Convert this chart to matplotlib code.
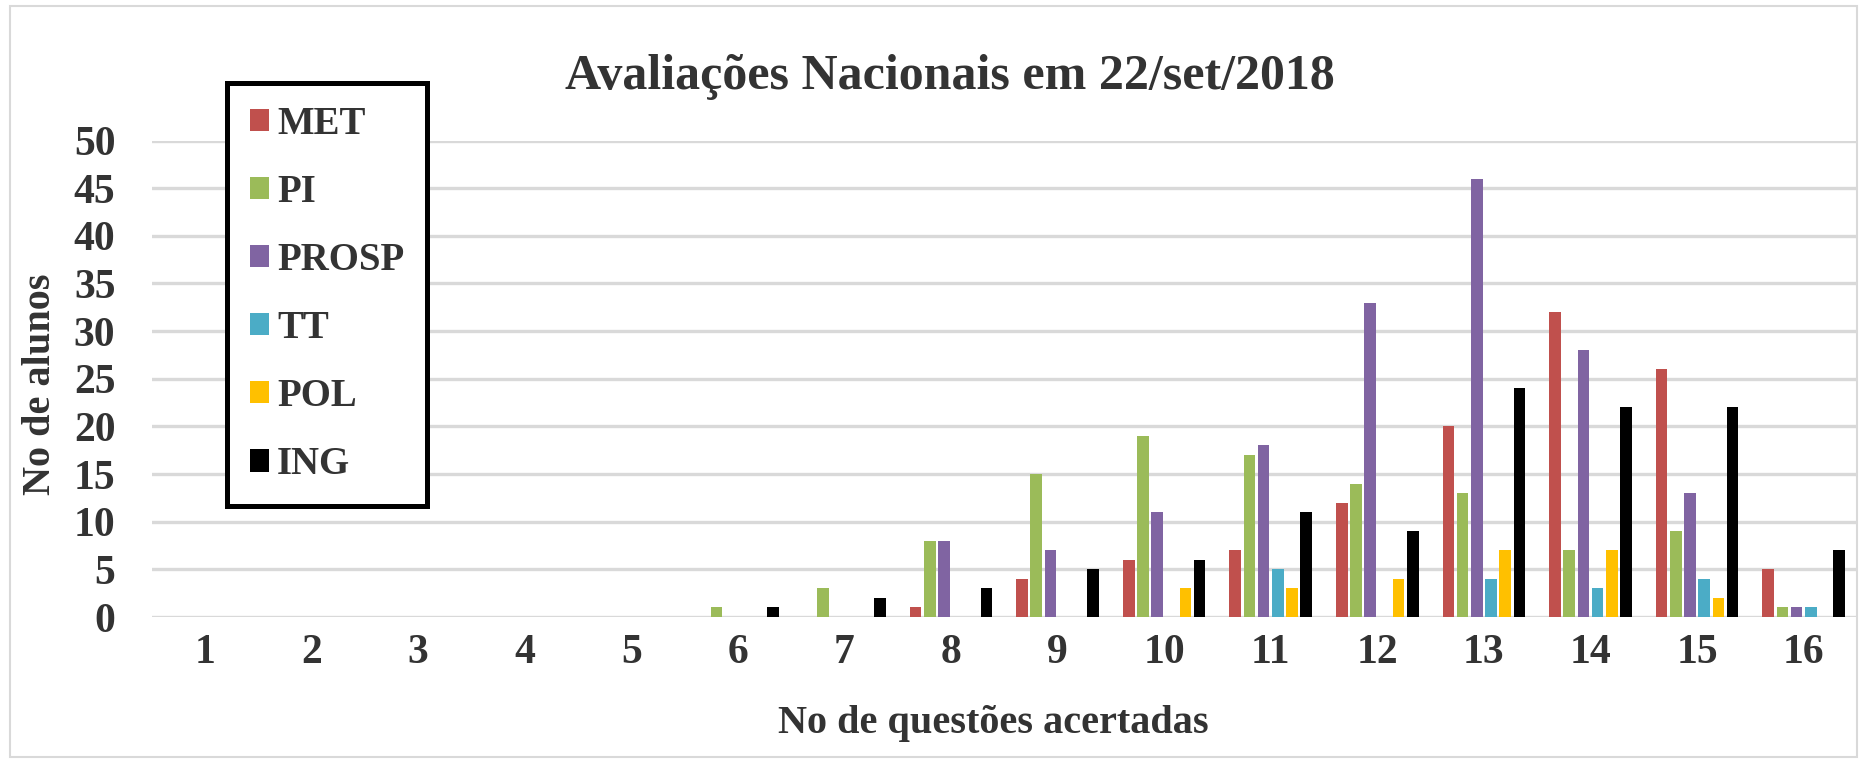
import numpy as np
import matplotlib.pyplot as plt

plt.rcParams['font.family'] = ['Liberation Serif', 'DejaVu Serif']
plt.rcParams['font.weight'] = 'bold'

questoes = list(range(1, 17))
series = ["MET", "PI", "PROSP", "TT", "POL", "ING"]
colors = ["#C0504D", "#9BBB59", "#8064A2", "#4BACC6", "#FFC000", "#000000"]

met   = [0, 0, 0, 0, 0, 0, 0, 1, 4, 6, 7, 12, 20, 32, 26, 5]
pi    = [0, 0, 0, 0, 0, 1, 3, 8, 15, 19, 17, 14, 13, 7, 9, 1]
prosp = [0, 0, 0, 0, 0, 0, 0, 8, 7, 11, 18, 33, 46, 28, 13, 1]
tt    = [0, 0, 0, 0, 0, 0, 0, 0, 0, 0, 5, 0, 4, 3, 4, 1]
pol   = [0, 0, 0, 0, 0, 0, 0, 0, 0, 3, 3, 4, 7, 7, 2, 0]
ing   = [0, 0, 0, 0, 0, 1, 2, 3, 5, 6, 11, 9, 24, 22, 22, 7]

values = [met, pi, prosp, tt, pol, ing]
txt = "#333333"
W, H = 1867, 762

fig = plt.figure(figsize=(W/100, H/100), dpi=100)
ax = fig.add_axes([151.5/W, 1-617/H, (1857-151.5)/W, (617-140.5)/H])

x = np.arange(len(questoes))
slot = 0.133
for i, (name, vals, c) in enumerate(zip(series, values, colors)):
    ax.bar(x + (i-2.5)*slot, vals, width=slot*0.82, color=c, label=name,
           linewidth=0, zorder=3)

ax.set_xlim(-0.5, len(questoes)-0.5)
ax.set_ylim(0, 50)
ax.set_yticks(range(0, 51, 5))
ax.set_xticks(x)
ax.set_xticklabels(questoes)
ax.grid(axis='y', color='#D9D9D9', linewidth=2.4, zorder=0)
ax.set_axisbelow(True)
for s in ax.spines.values():
    s.set_visible(False)
ax.tick_params(length=0, labelsize=30, colors=txt)
ax.tick_params(axis='y', pad=26)
ax.tick_params(axis='x', pad=12)

fig.text(40/W, 1-384/H, "No de alunos", rotation=90, ha='center', va='center',
         fontsize=29, color=txt, fontweight='bold')
fig.text(993/W, 1-723/H, "No de questões acertadas", ha='center', va='center',
         fontsize=29, color=txt, fontweight='bold')
fig.text(950/W, 1-89/H, "Avaliações Nacionais em 22/set/2018",
         ha='center', va='baseline', fontsize=36, color=txt, fontweight='bold')

leg = fig.legend(loc='upper left', bbox_to_anchor=(227/W, 1-83/H),
                 fontsize=28, frameon=True, fancybox=False, framealpha=1,
                 handlelength=0.51, handleheight=0.51, handletextpad=0.2,
                 labelspacing=0.8, borderpad=0.58, borderaxespad=0,
                 labelcolor=txt)
leg.get_frame().set_edgecolor('black')
leg.get_frame().set_linewidth(3.6)

# light frame round the chart area
fig.patches.append(plt.Rectangle((10/W, 5/H), 1-20/W, 1-11/H,
                                 transform=fig.transFigure, fill=False,
                                 edgecolor='#D9D9D9', linewidth=1.5))

fig.savefig("out.png", dpi=100)
